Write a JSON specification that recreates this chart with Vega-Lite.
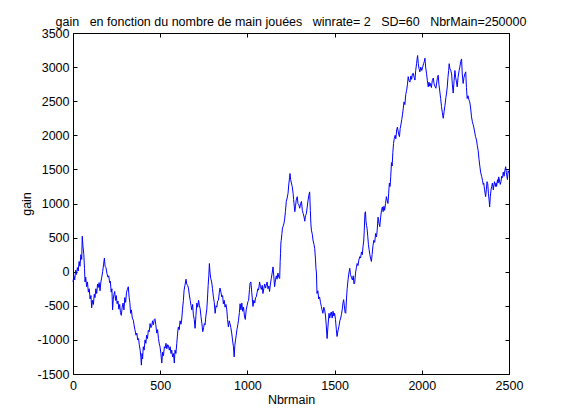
{
  "$schema": "https://vega.github.io/schema/vega-lite/v6.json",
  "width": 436,
  "height": 341,
  "autosize": "none",
  "padding": {"left": 73, "top": 33, "right": 52, "bottom": 46},
  "background": "white",
  "title": {
    "text": "gain \u00a0\u00a0en fonction du nombre de main jouées \u00a0\u00a0winrate= 2 \u00a0\u00a0SD=60 \u00a0\u00a0NbrMain=250000",
    "font": "Liberation Sans",
    "fontSize": 12.5,
    "fontWeight": "normal",
    "color": "black",
    "offset": 8,
    "dy": 9,
    "anchor": "middle",
    "frame": "group"
  },
  "data": {
    "values": [
      {"n":0,"gain":-150},{"n":5,"gain":-60},{"n":10,"gain":-120},{"n":15,"gain":20},{"n":20,"gain":-40},{"n":25,"gain":60},{"n":30,"gain":10},{"n":35,"gain":150},{"n":40,"gain":80},{"n":45,"gain":250},{"n":50,"gain":180},{"n":53,"gain":520},{"n":57,"gain":380},{"n":62,"gain":250},{"n":66,"gain":50},{"n":69,"gain":-150},{"n":73,"gain":-80},{"n":78,"gain":-220},{"n":83,"gain":-150},{"n":88,"gain":-300},{"n":93,"gain":-250},{"n":98,"gain":-400},{"n":103,"gain":-350},{"n":107,"gain":-530},{"n":112,"gain":-420},{"n":117,"gain":-480},{"n":122,"gain":-330},{"n":126,"gain":-380},{"n":131,"gain":-250},{"n":136,"gain":-320},{"n":141,"gain":-180},{"n":145,"gain":-230},{"n":150,"gain":-160},{"n":155,"gain":-280},{"n":160,"gain":-150},{"n":165,"gain":-80},{"n":170,"gain":0},{"n":175,"gain":100},{"n":180,"gain":200},{"n":184,"gain":80},{"n":189,"gain":60},{"n":195,"gain":-30},{"n":200,"gain":-80},{"n":205,"gain":-60},{"n":210,"gain":-160},{"n":214,"gain":-140},{"n":219,"gain":-300},{"n":223,"gain":-250},{"n":227,"gain":-560},{"n":231,"gain":-400},{"n":235,"gain":-330},{"n":239,"gain":-290},{"n":244,"gain":-420},{"n":248,"gain":-350},{"n":253,"gain":-470},{"n":258,"gain":-430},{"n":263,"gain":-550},{"n":268,"gain":-480},{"n":272,"gain":-600},{"n":277,"gain":-640},{"n":282,"gain":-520},{"n":287,"gain":-460},{"n":292,"gain":-560},{"n":297,"gain":-380},{"n":302,"gain":-450},{"n":307,"gain":-300},{"n":312,"gain":-260},{"n":317,"gain":-220},{"n":322,"gain":-380},{"n":326,"gain":-450},{"n":330,"gain":-610},{"n":335,"gain":-560},{"n":340,"gain":-680},{"n":346,"gain":-710},{"n":350,"gain":-780},{"n":355,"gain":-850},{"n":361,"gain":-930},{"n":366,"gain":-900},{"n":371,"gain":-1000},{"n":376,"gain":-980},{"n":380,"gain":-1070},{"n":385,"gain":-1150},{"n":389,"gain":-1250},{"n":392,"gain":-1370},{"n":396,"gain":-1200},{"n":399,"gain":-1280},{"n":403,"gain":-1100},{"n":408,"gain":-1150},{"n":413,"gain":-1000},{"n":418,"gain":-1050},{"n":422,"gain":-930},{"n":427,"gain":-980},{"n":432,"gain":-860},{"n":437,"gain":-880},{"n":442,"gain":-760},{"n":447,"gain":-820},{"n":451,"gain":-800},{"n":456,"gain":-720},{"n":461,"gain":-780},{"n":466,"gain":-700},{"n":470,"gain":-690},{"n":475,"gain":-780},{"n":480,"gain":-900},{"n":485,"gain":-850},{"n":490,"gain":-980},{"n":495,"gain":-1060},{"n":499,"gain":-1100},{"n":504,"gain":-1200},{"n":509,"gain":-1340},{"n":514,"gain":-1180},{"n":519,"gain":-1230},{"n":524,"gain":-1100},{"n":528,"gain":-1120},{"n":533,"gain":-1050},{"n":538,"gain":-1130},{"n":543,"gain":-1070},{"n":547,"gain":-1080},{"n":552,"gain":-1150},{"n":557,"gain":-1100},{"n":562,"gain":-1200},{"n":566,"gain":-1150},{"n":571,"gain":-1250},{"n":576,"gain":-1200},{"n":581,"gain":-1340},{"n":585,"gain":-1150},{"n":590,"gain":-1200},{"n":595,"gain":-1050},{"n":600,"gain":-900},{"n":604,"gain":-810},{"n":609,"gain":-850},{"n":614,"gain":-720},{"n":619,"gain":-770},{"n":623,"gain":-710},{"n":628,"gain":-550},{"n":633,"gain":-420},{"n":637,"gain":-270},{"n":642,"gain":-200},{"n":648,"gain":-110},{"n":652,"gain":-180},{"n":657,"gain":-200},{"n":662,"gain":-240},{"n":667,"gain":-340},{"n":672,"gain":-420},{"n":677,"gain":-500},{"n":681,"gain":-560},{"n":686,"gain":-480},{"n":690,"gain":-630},{"n":695,"gain":-700},{"n":700,"gain":-830},{"n":705,"gain":-640},{"n":710,"gain":-460},{"n":715,"gain":-520},{"n":720,"gain":-420},{"n":725,"gain":-500},{"n":729,"gain":-540},{"n":734,"gain":-660},{"n":739,"gain":-760},{"n":744,"gain":-880},{"n":749,"gain":-820},{"n":753,"gain":-760},{"n":757,"gain":-780},{"n":762,"gain":-650},{"n":767,"gain":-560},{"n":771,"gain":-400},{"n":775,"gain":-200},{"n":779,"gain":-50},{"n":782,"gain":120},{"n":786,"gain":-20},{"n":790,"gain":-100},{"n":795,"gain":-150},{"n":800,"gain":-250},{"n":805,"gain":-370},{"n":810,"gain":-450},{"n":815,"gain":-610},{"n":820,"gain":-500},{"n":825,"gain":-520},{"n":829,"gain":-430},{"n":834,"gain":-420},{"n":839,"gain":-300},{"n":843,"gain":-240},{"n":848,"gain":-300},{"n":853,"gain":-370},{"n":858,"gain":-350},{"n":862,"gain":-470},{"n":867,"gain":-420},{"n":872,"gain":-520},{"n":877,"gain":-480},{"n":882,"gain":-560},{"n":886,"gain":-700},{"n":891,"gain":-810},{"n":896,"gain":-720},{"n":900,"gain":-760},{"n":905,"gain":-820},{"n":910,"gain":-900},{"n":916,"gain":-1030},{"n":920,"gain":-1100},{"n":924,"gain":-1250},{"n":928,"gain":-1080},{"n":932,"gain":-1000},{"n":936,"gain":-930},{"n":940,"gain":-850},{"n":945,"gain":-780},{"n":949,"gain":-710},{"n":954,"gain":-600},{"n":958,"gain":-470},{"n":963,"gain":-560},{"n":968,"gain":-460},{"n":973,"gain":-580},{"n":978,"gain":-520},{"n":983,"gain":-650},{"n":988,"gain":-700},{"n":993,"gain":-560},{"n":998,"gain":-500},{"n":1003,"gain":-440},{"n":1007,"gain":-420},{"n":1012,"gain":-260},{"n":1015,"gain":-170},{"n":1020,"gain":-150},{"n":1025,"gain":-300},{"n":1032,"gain":-510},{"n":1037,"gain":-420},{"n":1042,"gain":-460},{"n":1047,"gain":-380},{"n":1051,"gain":-370},{"n":1056,"gain":-300},{"n":1060,"gain":-250},{"n":1064,"gain":-270},{"n":1070,"gain":-150},{"n":1075,"gain":-220},{"n":1080,"gain":-260},{"n":1085,"gain":-200},{"n":1089,"gain":-320},{"n":1094,"gain":-250},{"n":1099,"gain":-180},{"n":1104,"gain":-240},{"n":1108,"gain":-200},{"n":1113,"gain":-150},{"n":1118,"gain":-250},{"n":1123,"gain":-210},{"n":1127,"gain":-290},{"n":1132,"gain":-180},{"n":1137,"gain":-100},{"n":1142,"gain":-20},{"n":1147,"gain":70},{"n":1151,"gain":-50},{"n":1156,"gain":-220},{"n":1161,"gain":-120},{"n":1166,"gain":-60},{"n":1170,"gain":-110},{"n":1175,"gain":-20},{"n":1180,"gain":-80},{"n":1185,"gain":-100},{"n":1188,"gain":150},{"n":1190,"gain":270},{"n":1192,"gain":420},{"n":1194,"gain":460},{"n":1198,"gain":560},{"n":1201,"gain":640},{"n":1204,"gain":660},{"n":1209,"gain":700},{"n":1213,"gain":760},{"n":1218,"gain":880},{"n":1223,"gain":1030},{"n":1228,"gain":1080},{"n":1233,"gain":1150},{"n":1238,"gain":1300},{"n":1242,"gain":1380},{"n":1244,"gain":1440},{"n":1248,"gain":1350},{"n":1252,"gain":1300},{"n":1257,"gain":1250},{"n":1262,"gain":1150},{"n":1265,"gain":1060},{"n":1269,"gain":950},{"n":1272,"gain":880},{"n":1276,"gain":960},{"n":1280,"gain":1050},{"n":1286,"gain":1100},{"n":1290,"gain":1000},{"n":1295,"gain":980},{"n":1300,"gain":930},{"n":1305,"gain":1000},{"n":1310,"gain":1030},{"n":1315,"gain":900},{"n":1320,"gain":850},{"n":1325,"gain":800},{"n":1329,"gain":740},{"n":1333,"gain":820},{"n":1338,"gain":850},{"n":1343,"gain":950},{"n":1348,"gain":1050},{"n":1352,"gain":1120},{"n":1357,"gain":1170},{"n":1361,"gain":900},{"n":1364,"gain":700},{"n":1367,"gain":610},{"n":1372,"gain":550},{"n":1377,"gain":450},{"n":1382,"gain":400},{"n":1386,"gain":340},{"n":1390,"gain":200},{"n":1393,"gain":50},{"n":1396,"gain":-20},{"n":1399,"gain":-320},{"n":1404,"gain":-280},{"n":1409,"gain":-400},{"n":1414,"gain":-370},{"n":1419,"gain":-450},{"n":1424,"gain":-510},{"n":1428,"gain":-560},{"n":1433,"gain":-610},{"n":1438,"gain":-520},{"n":1443,"gain":-560},{"n":1448,"gain":-650},{"n":1452,"gain":-780},{"n":1457,"gain":-980},{"n":1462,"gain":-800},{"n":1468,"gain":-610},{"n":1472,"gain":-680},{"n":1477,"gain":-620},{"n":1481,"gain":-590},{"n":1486,"gain":-680},{"n":1491,"gain":-580},{"n":1496,"gain":-650},{"n":1500,"gain":-610},{"n":1505,"gain":-700},{"n":1510,"gain":-850},{"n":1514,"gain":-950},{"n":1519,"gain":-870},{"n":1525,"gain":-800},{"n":1530,"gain":-720},{"n":1535,"gain":-680},{"n":1539,"gain":-630},{"n":1544,"gain":-550},{"n":1548,"gain":-460},{"n":1552,"gain":-410},{"n":1556,"gain":-500},{"n":1560,"gain":-600},{"n":1564,"gain":-610},{"n":1568,"gain":-400},{"n":1572,"gain":-250},{"n":1577,"gain":-120},{"n":1582,"gain":-20},{"n":1587,"gain":50},{"n":1591,"gain":-40},{"n":1596,"gain":-80},{"n":1602,"gain":-120},{"n":1607,"gain":-60},{"n":1611,"gain":-180},{"n":1615,"gain":-170},{"n":1620,"gain":-20},{"n":1625,"gain":60},{"n":1629,"gain":120},{"n":1634,"gain":90},{"n":1639,"gain":170},{"n":1644,"gain":220},{"n":1649,"gain":200},{"n":1654,"gain":290},{"n":1659,"gain":250},{"n":1663,"gain":370},{"n":1667,"gain":450},{"n":1670,"gain":600},{"n":1674,"gain":860},{"n":1677,"gain":880},{"n":1680,"gain":740},{"n":1683,"gain":680},{"n":1686,"gain":640},{"n":1690,"gain":520},{"n":1694,"gain":400},{"n":1698,"gain":320},{"n":1702,"gain":250},{"n":1706,"gain":200},{"n":1711,"gain":150},{"n":1715,"gain":250},{"n":1720,"gain":380},{"n":1725,"gain":460},{"n":1730,"gain":430},{"n":1735,"gain":560},{"n":1740,"gain":510},{"n":1744,"gain":600},{"n":1749,"gain":800},{"n":1752,"gain":760},{"n":1755,"gain":700},{"n":1759,"gain":660},{"n":1764,"gain":800},{"n":1769,"gain":900},{"n":1774,"gain":950},{"n":1778,"gain":880},{"n":1783,"gain":960},{"n":1787,"gain":900},{"n":1792,"gain":1000},{"n":1797,"gain":1100},{"n":1801,"gain":1050},{"n":1806,"gain":1000},{"n":1810,"gain":1150},{"n":1814,"gain":1300},{"n":1818,"gain":1250},{"n":1822,"gain":1400},{"n":1826,"gain":1600},{"n":1830,"gain":1550},{"n":1834,"gain":1750},{"n":1838,"gain":1880},{"n":1842,"gain":1950},{"n":1847,"gain":2000},{"n":1851,"gain":1950},{"n":1856,"gain":2080},{"n":1860,"gain":2120},{"n":1865,"gain":2050},{"n":1869,"gain":2000},{"n":1872,"gain":1980},{"n":1876,"gain":2100},{"n":1880,"gain":2150},{"n":1885,"gain":2230},{"n":1889,"gain":2300},{"n":1894,"gain":2400},{"n":1898,"gain":2490},{"n":1903,"gain":2450},{"n":1908,"gain":2600},{"n":1913,"gain":2660},{"n":1918,"gain":2750},{"n":1922,"gain":2860},{"n":1927,"gain":2800},{"n":1932,"gain":2780},{"n":1937,"gain":2870},{"n":1942,"gain":2820},{"n":1946,"gain":2900},{"n":1951,"gain":2910},{"n":1956,"gain":2850},{"n":1961,"gain":2810},{"n":1965,"gain":2950},{"n":1970,"gain":3050},{"n":1973,"gain":3120},{"n":1976,"gain":3170},{"n":1980,"gain":3050},{"n":1984,"gain":2980},{"n":1989,"gain":2930},{"n":1994,"gain":3000},{"n":2000,"gain":2950},{"n":2005,"gain":3000},{"n":2010,"gain":3050},{"n":2014,"gain":3080},{"n":2018,"gain":3130},{"n":2022,"gain":3000},{"n":2027,"gain":2910},{"n":2032,"gain":2800},{"n":2037,"gain":2710},{"n":2041,"gain":2780},{"n":2046,"gain":2720},{"n":2050,"gain":2760},{"n":2055,"gain":2700},{"n":2060,"gain":2800},{"n":2066,"gain":2840},{"n":2070,"gain":2760},{"n":2075,"gain":2720},{"n":2081,"gain":2690},{"n":2086,"gain":2780},{"n":2090,"gain":2850},{"n":2094,"gain":2880},{"n":2098,"gain":2750},{"n":2103,"gain":2650},{"n":2108,"gain":2540},{"n":2113,"gain":2420},{"n":2118,"gain":2330},{"n":2123,"gain":2250},{"n":2128,"gain":2350},{"n":2133,"gain":2440},{"n":2138,"gain":2550},{"n":2142,"gain":2620},{"n":2146,"gain":2710},{"n":2150,"gain":2850},{"n":2154,"gain":2950},{"n":2157,"gain":3050},{"n":2161,"gain":2980},{"n":2166,"gain":2950},{"n":2171,"gain":2900},{"n":2175,"gain":2750},{"n":2180,"gain":2620},{"n":2185,"gain":2800},{"n":2190,"gain":2950},{"n":2194,"gain":2850},{"n":2199,"gain":2780},{"n":2203,"gain":2710},{"n":2208,"gain":2850},{"n":2214,"gain":2950},{"n":2218,"gain":3000},{"n":2223,"gain":3080},{"n":2228,"gain":3120},{"n":2232,"gain":2900},{"n":2237,"gain":2760},{"n":2242,"gain":2850},{"n":2247,"gain":2900},{"n":2252,"gain":2930},{"n":2256,"gain":2700},{"n":2260,"gain":2540},{"n":2265,"gain":2580},{"n":2270,"gain":2520},{"n":2275,"gain":2490},{"n":2280,"gain":2400},{"n":2285,"gain":2270},{"n":2290,"gain":2200},{"n":2294,"gain":2160},{"n":2298,"gain":2120},{"n":2303,"gain":2050},{"n":2308,"gain":1980},{"n":2314,"gain":1930},{"n":2318,"gain":1850},{"n":2323,"gain":1780},{"n":2328,"gain":1650},{"n":2333,"gain":1540},{"n":2338,"gain":1450},{"n":2343,"gain":1400},{"n":2348,"gain":1340},{"n":2352,"gain":1280},{"n":2355,"gain":1300},{"n":2360,"gain":1200},{"n":2366,"gain":1100},{"n":2370,"gain":1200},{"n":2374,"gain":1320},{"n":2378,"gain":1290},{"n":2382,"gain":1150},{"n":2386,"gain":1050},{"n":2389,"gain":950},{"n":2393,"gain":1100},{"n":2397,"gain":1200},{"n":2401,"gain":1250},{"n":2405,"gain":1300},{"n":2410,"gain":1200},{"n":2414,"gain":1280},{"n":2417,"gain":1320},{"n":2422,"gain":1250},{"n":2426,"gain":1300},{"n":2429,"gain":1250},{"n":2434,"gain":1350},{"n":2438,"gain":1300},{"n":2441,"gain":1390},{"n":2446,"gain":1330},{"n":2450,"gain":1280},{"n":2454,"gain":1320},{"n":2458,"gain":1400},{"n":2463,"gain":1380},{"n":2467,"gain":1460},{"n":2472,"gain":1400},{"n":2476,"gain":1480},{"n":2481,"gain":1540},{"n":2485,"gain":1450},{"n":2491,"gain":1350},{"n":2495,"gain":1480},{"n":2500,"gain":1450}
    ]
  },
  "layer": [
    {
      "mark": {"type": "line", "color": "#0000ff", "strokeWidth": 1, "interpolate": "linear"},
      "encoding": {
        "x": {
          "field": "n",
          "type": "quantitative",
          "title": "Nbrmain",
          "scale": {"domain": [0, 2500], "nice": false, "zero": false},
          "axis": {"values": [0, 500, 1000, 1500, 2000, 2500], "orient": "bottom", "titlePadding": 2, "labelPadding": 5}
        },
        "y": {
          "field": "gain",
          "type": "quantitative",
          "title": "gain",
          "scale": {"domain": [-1500, 3500], "nice": false, "zero": false},
          "axis": {"values": [-1500, -1000, -500, 0, 500, 1000, 1500, 2000, 2500, 3000, 3500], "orient": "left", "titlePadding": 4, "labelPadding": 4}
        }
      }
    },
    {
      "mark": {"type": "line", "strokeOpacity": 0},
      "encoding": {
        "x": {
          "field": "n",
          "type": "quantitative",
          "axis": {"values": [0, 500, 1000, 1500, 2000, 2500], "orient": "top", "labels": false, "title": null}
        },
        "y": {
          "field": "gain",
          "type": "quantitative",
          "axis": {"values": [-1500, -1000, -500, 0, 500, 1000, 1500, 2000, 2500, 3000, 3500], "orient": "right", "labels": false, "title": null}
        }
      }
    }
  ],
  "resolve": {"axis": {"x": "independent", "y": "independent"}},
  "config": {
    "view": {"stroke": "black", "strokeWidth": 1},
    "axis": {
      "grid": false,
      "domain": false,
      "offset": -4,
      "tickColor": "black",
      "tickSize": 4,
      "tickWidth": 1,
      "labelFlush": false,
      "labelOverlap": false,
      "labelExpr": "'' + datum.value",
      "labelFont": "Liberation Sans",
      "labelFontSize": 12.5,
      "labelColor": "black",
      "titleFont": "Liberation Sans",
      "titleFontSize": 12.5,
      "titleFontWeight": "normal",
      "titleColor": "black"
    }
  }
}
